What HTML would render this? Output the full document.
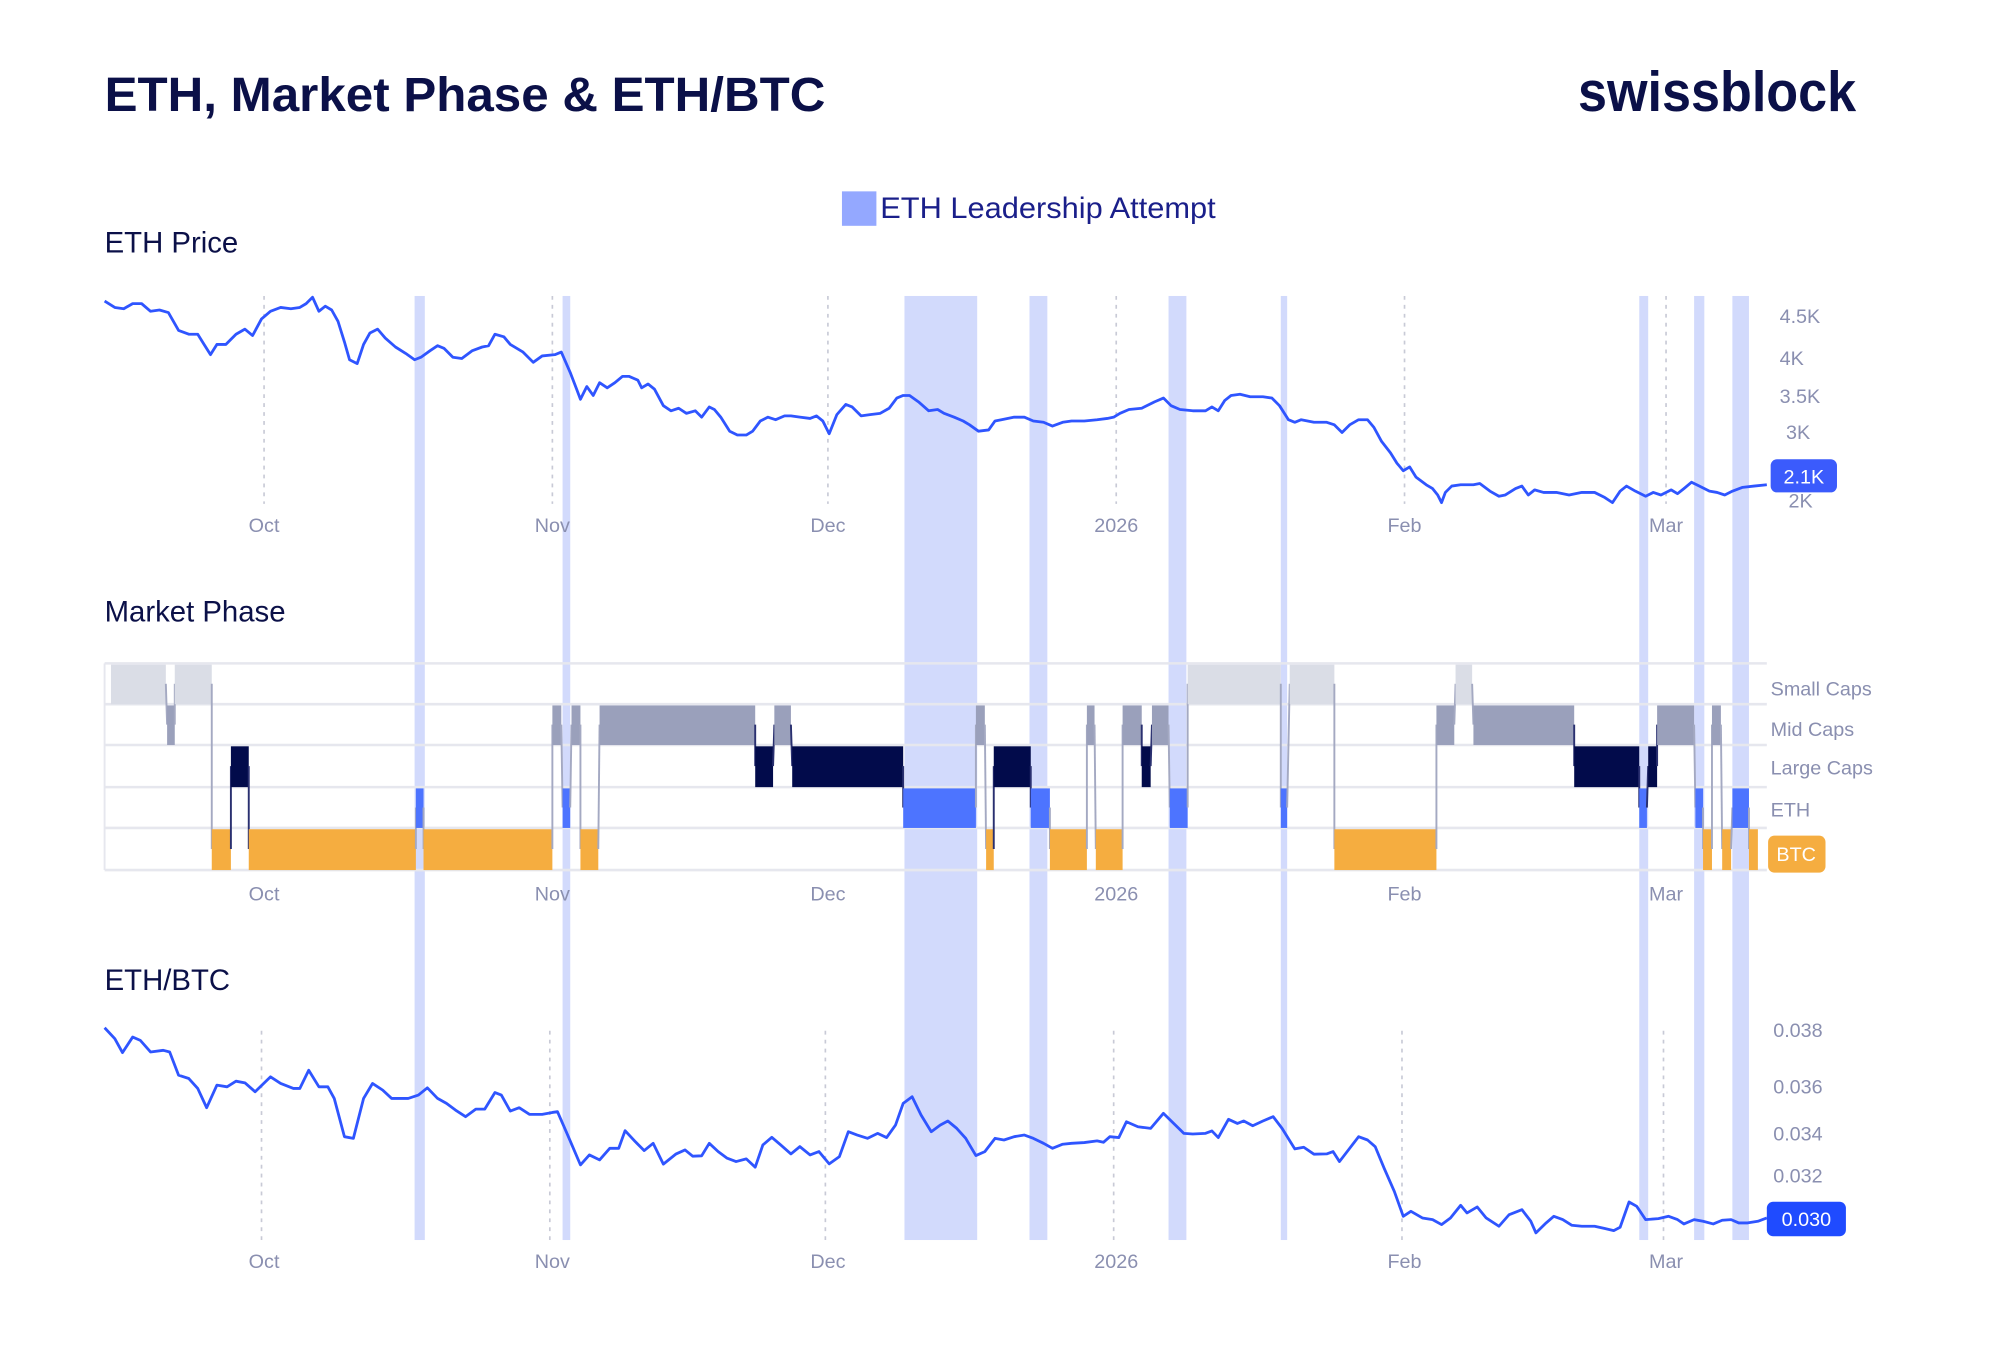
<!DOCTYPE html>
<html><head><meta charset="utf-8"><style>
html,body{margin:0;padding:0;background:#fff;}
svg{display:block;font-family:"Liberation Sans",sans-serif;}
</style></head><body>
<svg id="s" width="1999" height="1363" viewBox="0 0 1567 1068.4" preserveAspectRatio="none" xmlns="http://www.w3.org/2000/svg">
<rect width="1567" height="1069" fill="#fff"/>
<text x="82" y="87" font-size="38" font-weight="bold" fill="#0b1048" textLength="565" lengthAdjust="spacingAndGlyphs">ETH, Market Phase &amp; ETH/BTC</text>
<text x="1237" y="87" font-size="44" font-weight="bold" fill="#0b1048" textLength="218" lengthAdjust="spacingAndGlyphs">swissblock</text>
<rect x="660" y="150" width="27" height="27" fill="#94a8ff"/>
<text x="690" y="171" font-size="23" fill="#1a1f8a" textLength="263" lengthAdjust="spacingAndGlyphs">ETH Leadership Attempt</text>
<text x="82" y="198" font-size="23" fill="#0b1048">ETH Price</text>
<text x="82" y="487" font-size="23" fill="#0b1048">Market Phase</text>
<text x="82" y="776" font-size="23" fill="#0b1048">ETH/BTC</text>
<g id="grid"></g>
<g id="bands"></g>
<g id="mp"></g>
<polyline id="price" fill="none" stroke="#2f55ff" stroke-width="2.2" stroke-linejoin="round" points="82,236 90,241 97,242 104,238 111,238 118,244 125,243 132,245 140,259 148,262 155,262 160,270 165,278 170,270 177,270 185,262 192,258 198,263 205,250 212,244 220,241 228,242 235,241 240,238 245,233 250,244 255,240 260,243 265,252 270,268 274,282 280,285 285,270 290,261 296,258 302,265 310,272 318,277 325,282 330,280 337,275 343,271 348,273 355,280 362,281 370,275 378,272 383,271 388,262 395,264 400,270 410,276 418,284 425,279 435,278 440,276 447,292 452,305 455,313 460,303 465,310 470,300 476,304 482,300 488,295 493,295 500,298 503,304 508,301 513,305 520,318 526,322 532,320 538,324 545,322 550,327 556,319 560,321 565,327 572,338 578,341 585,341 590,338 596,330 602,327 608,329 615,326 620,326 627,327 635,328 640,326 645,330 650,340 656,325 663,317 668,319 675,326 682,325 690,324 697,320 703,312 708,310 713,310 720,315 728,322 735,321 740,324 748,327 755,330 760,333 767,338 775,337 780,330 785,329 795,327 803,327 810,330 818,331 825,334 833,331 840,330 850,330 860,329 868,328 873,327 878,324 885,321 895,320 905,315 912,312 918,318 925,321 935,322 945,322 950,319 955,322 960,314 965,310 972,309 980,311 990,311 997,312 1003,318 1010,329 1015,331 1020,329 1030,331 1040,331 1046,333 1052,339 1058,333 1065,329 1072,329 1077,335 1083,346 1090,355 1095,363 1100,369 1105,366 1110,374 1118,380 1123,383 1127,388 1130,394 1133,386 1138,381 1145,380 1155,380 1160,379 1168,385 1175,389 1180,388 1188,383 1193,381 1198,388 1203,384 1210,386 1220,386 1230,388 1240,386 1250,386 1258,390 1264,394 1270,385 1275,381 1282,385 1290,389 1296,386 1302,388 1310,384 1315,387 1320,383 1326,378 1332,381 1340,385 1346,386 1352,388 1358,385 1366,382 1375,381 1385,380"/>
<polyline id="ebtc" fill="none" stroke="#2f55ff" stroke-width="2.2" stroke-linejoin="round" points=""/>
<g font-size="15.5" fill="#8a8fb0">
<text x="1395" y="253">4.5K</text><text x="1395" y="286">4K</text><text x="1395" y="316">3.5K</text><text x="1400" y="344">3K</text><text x="1402" y="398">2K</text>
<text x="1390" y="813">0.038</text><text x="1390" y="857">0.036</text><text x="1390" y="894">0.034</text><text x="1390" y="927">0.032</text>
<text x="1388" y="545">Small Caps</text><text x="1388" y="577">Mid Caps</text><text x="1388" y="607">Large Caps</text><text x="1388" y="640">ETH</text>
</g>
<g id="dates" font-size="15.5" fill="#8a8fb0" text-anchor="middle"></g>
<rect x="1388" y="360" width="52" height="26" rx="5" fill="#3b5bfc"/>
<text x="1414" y="379" font-size="15.5" fill="#fff" text-anchor="middle">2.1K</text>
<rect x="1385" y="942" width="62" height="27" rx="5" fill="#1f4bff"/>
<text x="1416" y="961" font-size="15.5" fill="#fff" text-anchor="middle">0.030</text>
<rect x="1386" y="655" width="45" height="29" rx="5" fill="#f5ad40"/>
<text x="1408" y="675" font-size="15.5" fill="#fff" text-anchor="middle">BTC</text>
</svg>
<script>
var NS="http://www.w3.org/2000/svg";
function el(p,t,a){var e=document.createElementNS(NS,t);for(var k in a)e.setAttribute(k,a[k]);document.getElementById(p).appendChild(e);return e;}
var months=[[207,"Oct"],[433,"Nov"],[649,"Dec"],[875,"2026"],[1101,"Feb"],[1306,"Mar"]];
months.forEach(function(m){
 el("grid","line",{x1:m[0],x2:m[0],y1:232,y2:395,stroke:"#c8cad6","stroke-width":1.3,"stroke-dasharray":"3,4"});
 el("grid","line",{x1:m[0]-2,x2:m[0]-2,y1:808,y2:972,stroke:"#c8cad6","stroke-width":1.3,"stroke-dasharray":"3,4"});
 [417,706,994].forEach(function(y){var t=el("dates","text",{x:m[0],y:y});t.textContent=m[1];});
});
var bands=[[325,333],[441,447],[709,766],[807,821],[916,930],[1004,1009],[1285,1292],[1328,1336],[1358,1371]];
bands.forEach(function(b){el("bands","rect",{x:b[0],y:232,width:b[1]-b[0],height:740,fill:"#d2dafc"});});
var rows=[520,552,584,617,649,682];
for(var i=0;i<rows.length;i++)el("mp","line",{x1:82,x2:1385,y1:rows[i],y2:rows[i],stroke:"#e6e7ee","stroke-width":2});
el("mp","line",{x1:82,x2:82,y1:520,y2:682,stroke:"#e6e7ee","stroke-width":1.5});
var col=["#dadde6","#9aa0bb","#020b4b","#4d74ff","#f5ad40"];
var B=[[87,130,0],[131,137,1],[137,166,0],[166,181,4],[181,195,2],[195,326,4],[326,332,3],[332,433,4],[433,440,1],[441,447,3],[448,455,1],[455,469,4],[470,592,1],[592,606,2],[607,620,1],[621,708,2],[708,765,3],[765,772,1],[773,779,4],[779,808,2],[808,823,3],[823,852,4],[852,858,1],[859,880,4],[880,895,1],[895,902,2],[903,916,1],[917,931,3],[931,1004,0],[1004,1009,3],[1011,1046,0],[1046,1126,4],[1126,1140,1],[1141,1154,0],[1155,1234,1],[1234,1285,2],[1285,1291,3],[1292,1299,2],[1299,1328,1],[1329,1335,3],[1335,1342,4],[1342,1349,1],[1350,1357,4],[1358,1371,3],[1371,1378,4]];
for(var j=0;j<B.length;j++){var b=B[j];
 if(j>0){var p=B[j-1];el("mp","line",{x1:p[1],y1:(rows[p[2]]+rows[p[2]+1])/2,x2:b[0],y2:(rows[b[2]]+rows[b[2]+1])/2,stroke:(p[2]==2||b[2]==2)?"#2a3070":"#a4a9c2","stroke-width":1.5});}
 el("mp","rect",{x:b[0],y:rows[b[2]]+1,width:b[1]-b[0],height:rows[b[2]+1]-rows[b[2]]-1,fill:col[b[2]]});}
var z=[[82,217],[90,250],[96,292],[104,245],[110,255],[118,290],[128,285],[133,290],[140,360],[148,370],[155,400],[162,458],[170,390],[178,395],[185,378],[192,383],[200,410],[212,365],[220,385],[230,400],[235,400],[242,345],[250,395],[257,395],[262,430],[270,545],[277,550],[285,430],[292,385],[300,405],[307,430],[320,430],[328,420],[335,398],[343,430],[350,445],[357,465],[365,485],[373,462],[380,462],[388,412],[393,420],[400,468],[407,458],[415,478],[425,478],[433,472],[437,470],[445,540],[455,630],[462,600],[470,615],[478,580],[485,580],[490,527],[498,560],[505,587],[512,565],[520,628],[530,597],[537,585],[543,604],[550,603],[556,565],[563,590],[570,610],[577,620],[585,612],[592,637],[598,570],[605,547],[612,570],[620,597],[627,575],[635,600],[642,590],[650,627],[658,605],[665,530],[672,540],[680,550],[688,535],[695,548],[702,510],[708,445],[715,425],[722,480],[730,530],[737,510],[743,498],[750,520],[757,550],[765,602],[772,590],[780,550],[787,555],[795,545],[803,540],[810,550],[818,565],[825,580],[833,568],[840,565],[850,563],[860,558],[865,562],[870,545],[877,548],[883,500],[892,515],[902,520],[912,475],[920,505],[928,535],[935,537],[945,535],[950,528],[955,548],[963,493],[970,505],[975,498],[982,512],[990,498],[998,485],[1005,520],[1015,582],[1022,577],[1030,598],[1040,597],[1045,590],[1050,620],[1058,580],[1065,545],[1072,555],[1078,575],[1085,640],[1093,710],[1100,785],[1106,770],[1115,790],[1123,795],[1130,810],[1137,790],[1145,752],[1150,775],[1158,757],[1165,790],[1175,815],[1183,780],[1193,765],[1200,800],[1204,835],[1212,805],[1218,785],[1225,795],[1232,812],[1240,815],[1250,815],[1258,822],[1265,828],[1270,818],[1277,742],[1283,755],[1290,795],[1300,792],[1308,785],[1315,795],[1320,808],[1328,795],[1335,800],[1343,808],[1350,797],[1357,795],[1363,805],[1370,805],[1378,800],[1385,790]];
document.getElementById("ebtc").setAttribute("points",z.map(function(q){return q[0]+","+(749.2+q[1]*0.2601).toFixed(1);}).join(" "));
</script>
</body></html>
